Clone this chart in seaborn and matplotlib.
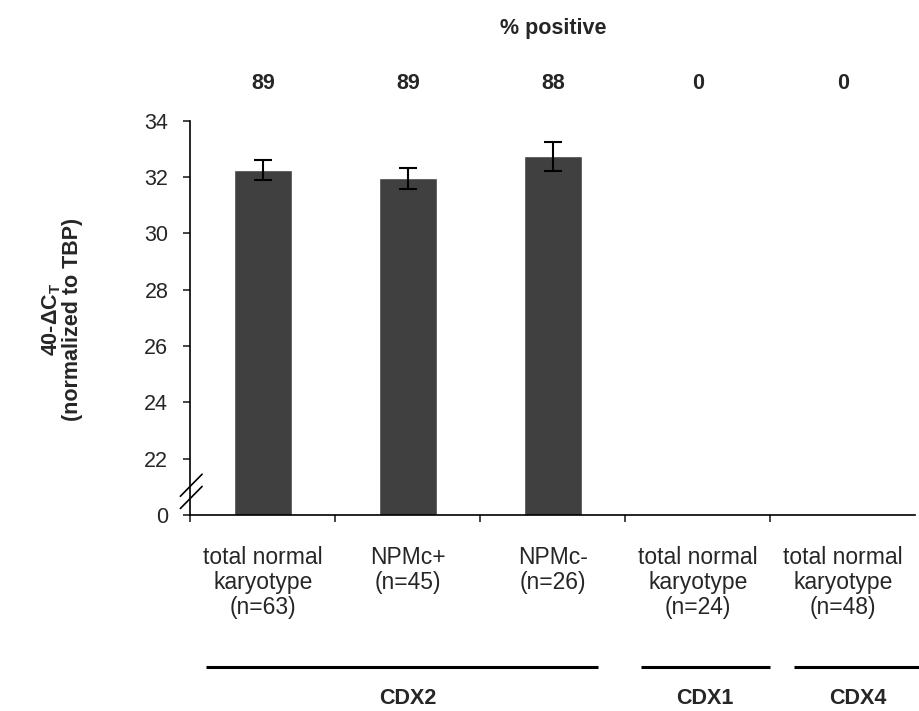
import pandas as pd
import numpy as np
import seaborn as sns
import matplotlib.pyplot as plt
from matplotlib.transforms import blended_transform_factory

# categories (x axis) and measured values
categories = ['total normal\nkaryotype\n(n=63)', 'NPMc+\n(n=45)', 'NPMc-\n(n=26)',
              'total normal\nkaryotype\n(n=24)', 'total normal\nkaryotype\n(n=48)']
values = [32.25, 31.95, 32.73, np.nan, np.nan]
errors = [0.35, 0.38, 0.50, np.nan, np.nan]
pct_positive = ['89', '89', '88', '0', '0']

# gene groups under the x labels, with the span of their underline (category units)
groups = ['CDX2', 'CDX1', 'CDX4']
group_center = [1.0, 3.05, 4.1]
line_start = [-0.39, 2.61, 3.66]
line_end = [2.31, 3.5, 4.53]

ytick_vals = [20, 22, 24, 26, 28, 30, 32, 34]
ytick_labels = ['0', '22', '24', '26', '28', '30', '32', '34']

sns.set_style('white')
plt.rcParams['font.family'] = ['Liberation Sans', 'DejaVu Sans']
plt.rcParams['mathtext.fontset'] = 'custom'
plt.rcParams['mathtext.rm'] = 'Liberation Sans'
plt.rcParams['mathtext.bf'] = 'Liberation Sans:bold'

df = pd.DataFrame({'group': categories, 'value': values, 'err': errors})

fig = plt.figure(figsize=(9.2, 7.11), dpi=100)
ax = fig.add_axes([190.5 / 920, 196 / 711, 725 / 920, 394.3 / 711])

sns.barplot(data=df, x='group', y='value', order=categories, color='#404040',
            width=0.4, errorbar=None, saturation=1, ax=ax)
pos = np.arange(len(categories))
ax.errorbar(pos, df['value'], yerr=df['err'], fmt='none', ecolor='black',
            elinewidth=1.5, capsize=6.5, capthick=1.5)

ax.set_xlim(-0.5, len(categories) - 0.5)
ax.set_ylim(20, 34)
ax.set_yticks(ytick_vals, ytick_labels)
ax.set_xlabel('')
ax.set_ylabel('')

# boundary ticks on x, labels in the middle of each slot
ax.set_xticks(np.arange(len(categories)) - 0.5, [''] * len(categories))
ax.set_xticks(pos, categories, minor=True)
ax.tick_params(axis='x', which='major', direction='out', length=5, width=1.2, bottom=True)
ax.tick_params(axis='x', which='minor', length=0, pad=22, labelsize=16.5)
ax.tick_params(axis='y', direction='out', length=5, width=1.2, left=True, pad=11, labelsize=15.5)
for lab in ax.get_xticklabels(minor=True):
    lab.set_linespacing(1.12)

for s in ['top', 'right']:
    ax.spines[s].set_visible(False)
for s in ['left', 'bottom']:
    ax.spines[s].set_color('black')
    ax.spines[s].set_linewidth(1.2)

# axis break marks
for yb in [0.0445, 0.0755]:
    ax.plot([-0.014, 0.016], [yb - 0.028, yb + 0.028], transform=ax.transAxes,
            color='black', lw=1.2, clip_on=False)

# % positive row
trans = blended_transform_factory(ax.transData, fig.transFigure)
ax.text(2, 0.96, '% positive', transform=trans, ha='center', va='center',
        fontsize=15.5, fontweight='bold')
for i, p in enumerate(pct_positive):
    ax.text(i, 0.883, p, transform=trans, ha='center', va='center',
            fontsize=15.5, fontweight='bold')

# gene group lines and names
for g, c, a, b in zip(groups, group_center, line_start, line_end):
    ax.plot([a, b], [0.062, 0.062], transform=trans, color='black',
            lw=2.2, clip_on=False, solid_capstyle='butt')
    ax.text(c, 0.018, g, transform=trans, ha='center', va='center',
            fontsize=15.5, fontweight='bold')

fig.text(62 / 920, 0.551, '40-ΔC$_\\mathbf{T}$\n(normalized to TBP)', rotation=90,
         ha='center', va='center', multialignment='center', fontsize=15.5,
         fontweight='bold', linespacing=0.92)

fig.savefig('out.png', dpi=100)
